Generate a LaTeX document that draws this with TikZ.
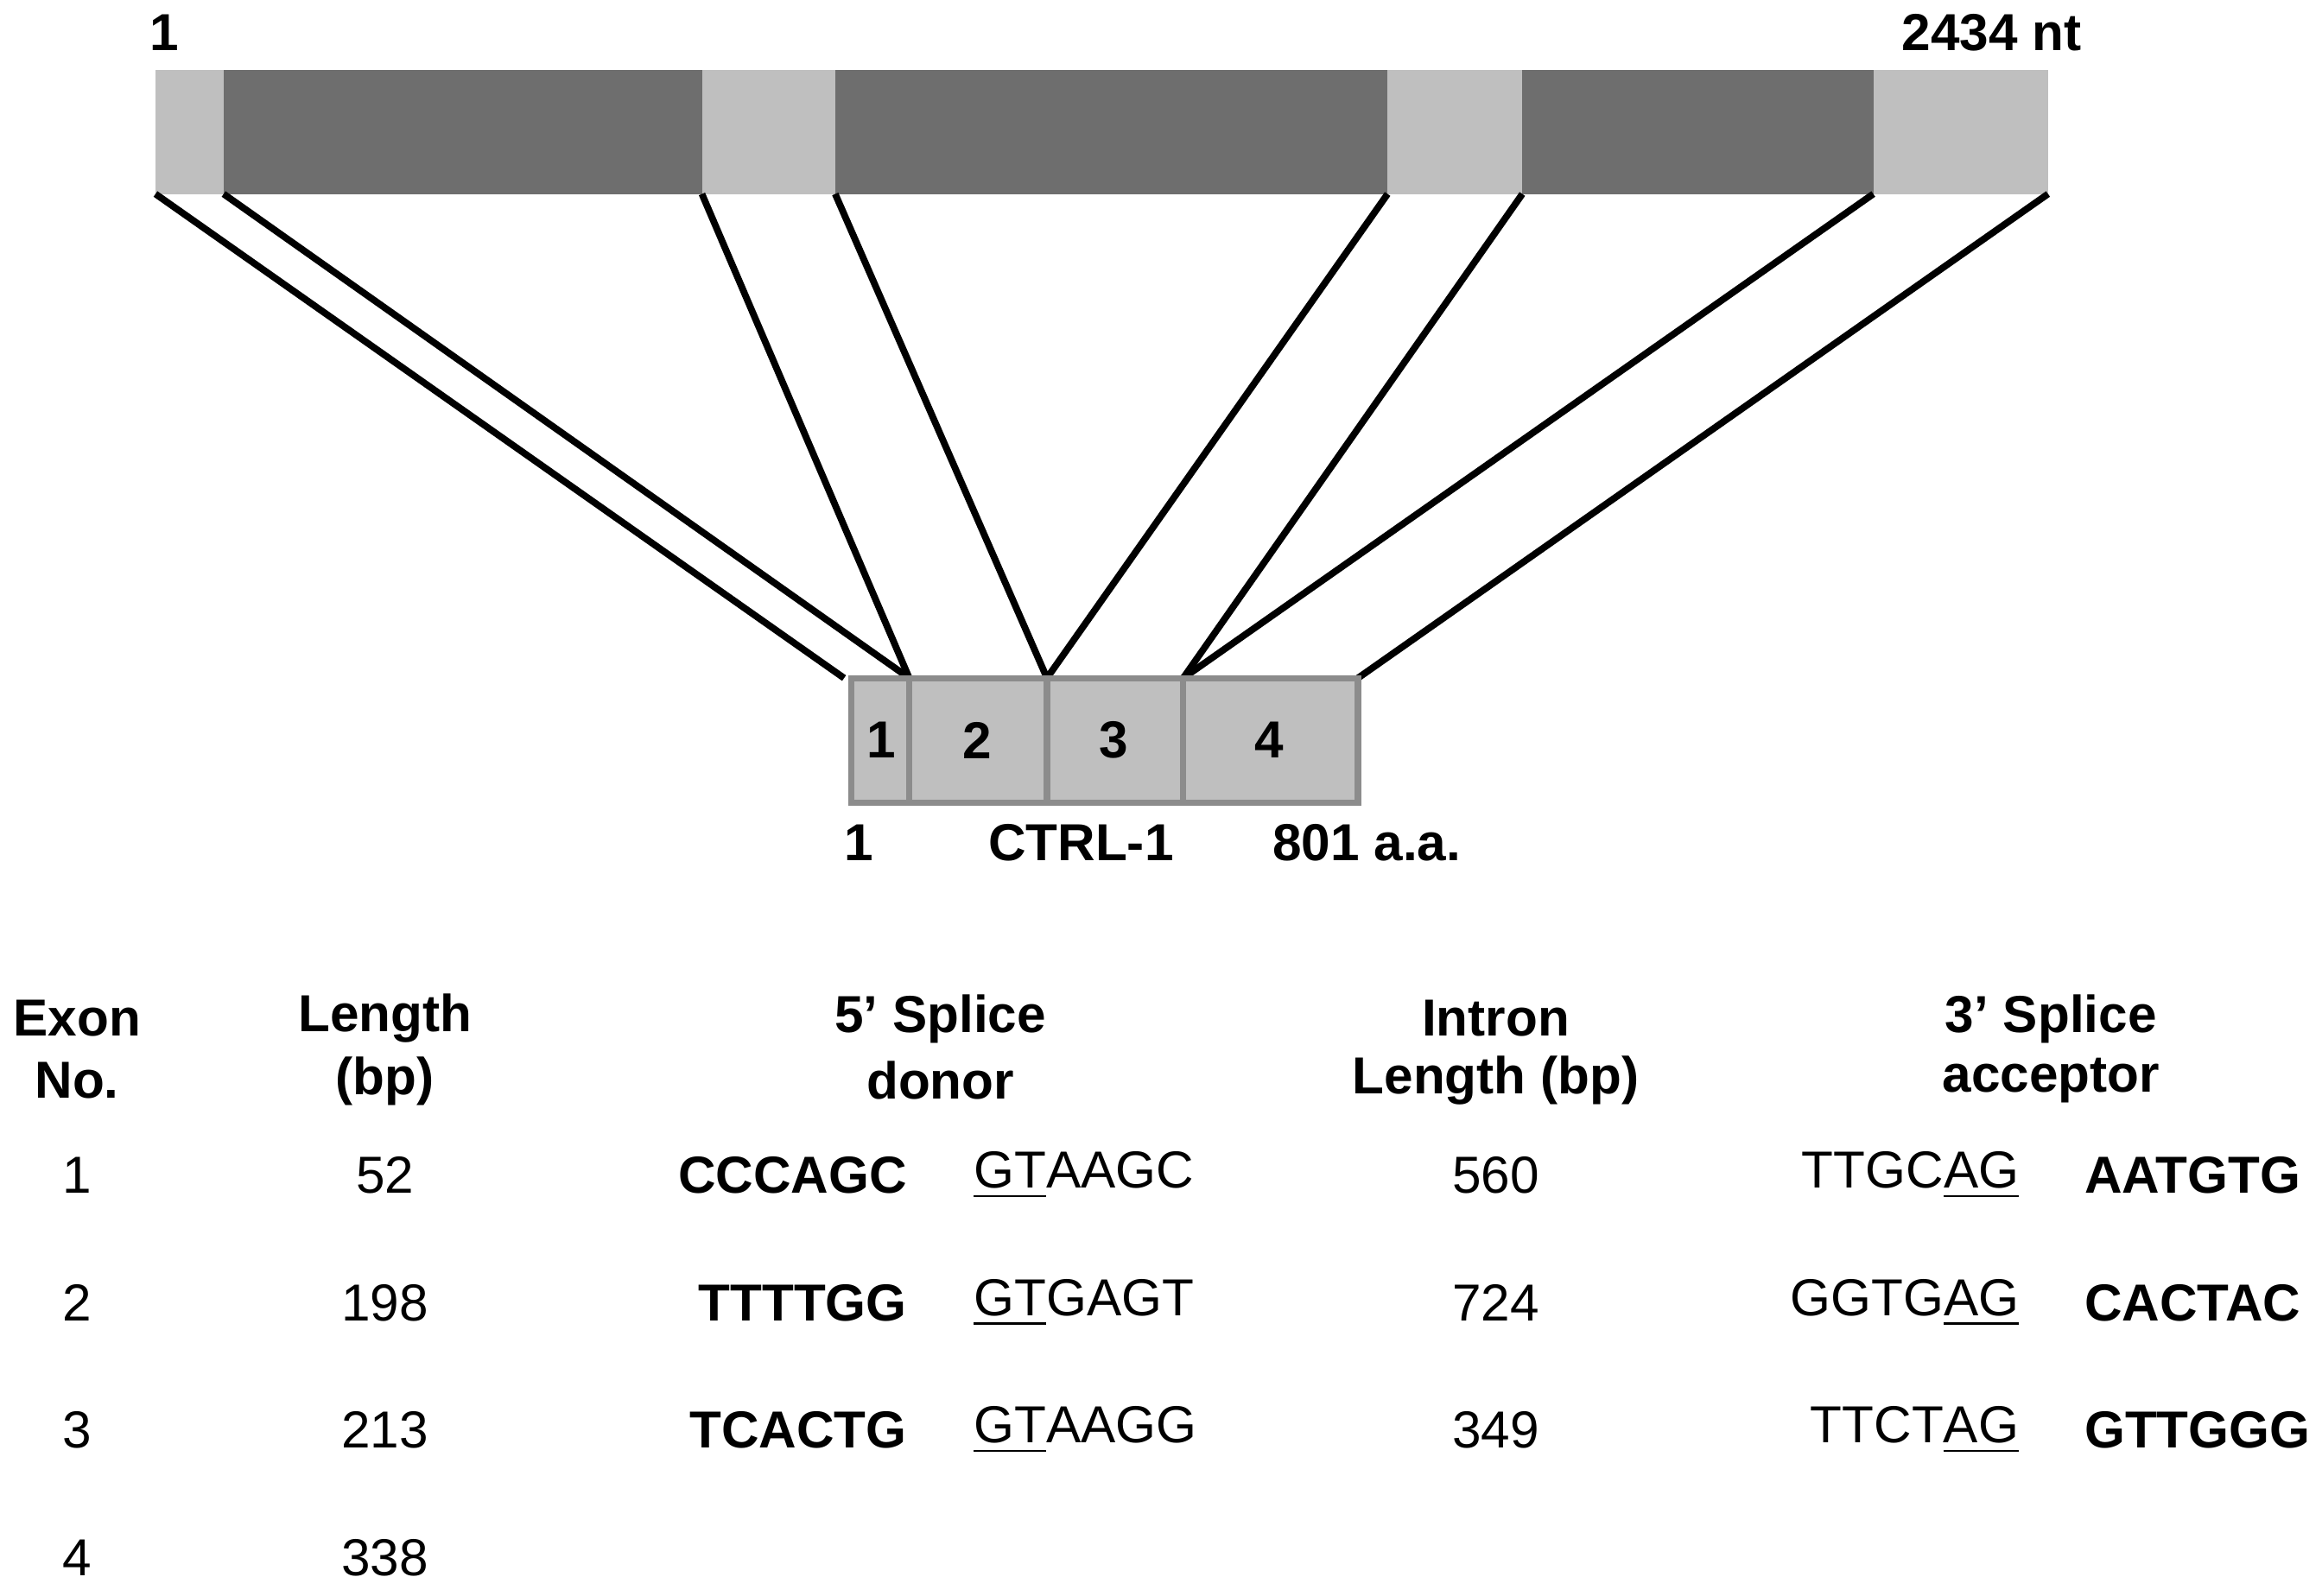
\documentclass[tikz,border=0pt]{standalone}
\usepackage{fontspec}
\setmainfont{Liberation Sans}
\begin{document}
\begin{tikzpicture}[x=0.01cm,y=-0.01cm,
  lt/.style={fill=black!25,draw=none},
  dk/.style={fill=black!57,draw=none},
  ex/.style={fill=black!25,draw=black!45,line width=1.2pt},
  ln/.style={line width=1.3pt,black},
  t/.style={font=\fontsize{10}{12}\selectfont,inner sep=0pt},
  b/.style={t,font=\fontsize{10}{12}\selectfont\bfseries}]
\useasboundingbox (0,0) rectangle (1568,1078);
% top bar
\path[lt] (105,47) rectangle (151,131);
\path[dk] (151,47) rectangle (474,131);
\path[lt] (474,47) rectangle (564,131);
\path[dk] (564,47) rectangle (937,131);
\path[lt] (937,47) rectangle (1028,131);
\path[dk] (1028,47) rectangle (1265,131);
\path[lt] (1265,47) rectangle (1383,131);
\node[b] (n1) at (111,22) {1};
\node[b] (n2) at (1345,22) {2434 nt};
% coordinates
\coordinate (a1) at (105,131); \coordinate (a2) at (151,131);
\coordinate (a3) at (474,131); \coordinate (a4) at (564,131);
\coordinate (a5) at (937,131); \coordinate (a6) at (1028,131);
\coordinate (a7) at (1265,131); \coordinate (a8) at (1383,131);
\coordinate (b0) at (570,458); \coordinate (b1) at (614,458);
\coordinate (b2) at (707,458); \coordinate (b3) at (799,458);
\coordinate (b4) at (917,458);
\draw[ln] (a1)--(b0); \draw[ln] (a2)--(b1); \draw[ln] (a3)--(b1);
\draw[ln] (a4)--(b2); \draw[ln] (a5)--(b2); \draw[ln] (a6)--(b3);
\draw[ln] (a7)--(b3); \draw[ln] (a8)--(b4);
% exons
\draw[ex] (575,458) rectangle (614,542);
\draw[ex] (614,458) rectangle (707,542);
\draw[ex] (707,458) rectangle (799,542);
\draw[ex] (799,458) rectangle (917,542);
\node[b] (e1) at (595,500) {1};
\node[b] (e2) at (660,500) {2};
\node[b] (e3) at (752,500) {3};
\node[b] (e4) at (857,500) {4};
\node[b] (p1) at (580,569) {1};
\node[b] (p2) at (730,569) {CTRL-1};
\node[b] (p3) at (923,569) {801 a.a.};
% headers
\node[b] (h1a) at (52,688) {Exon}; \node[b] (h1b) at (52,730) {No.};
\node[b] (h2a) at (260,688) {Length}; \node[b] (h2b) at (260,730) {(bp)};
\node[b] (h3a) at (635,688) {5’ Splice}; \node[b] (h3b) at (635,730) {donor};
\node[b] (h4a) at (1010,688) {Intron}; \node[b] (h4b) at (1010,730) {Length (bp)};
\node[b] (h5a) at (1385,688) {3’ Splice}; \node[b] (h5b) at (1385,730) {acceptor};
% rows
\foreach \y/\n/\l/\d/\ds/\i/\as/\ac [count=\k] in
 {794/1/52/CCCAGC/AAGC/560/TTGC/AATGTG,
  880/2/198/TTTTGG/GAGT/724/GGTG/CACTAC,
  966/3/213/TCACTG/AAGG/349/TTCT/GTTGGG}{
 \node[t] (r\k a) at (52,\y) {\n};
 \node[t] (r\k b) at (260,\y) {\l};
 \node[b,anchor=east] (r\k c) at (613,\y) {\d};
 \node[t,anchor=west] (r\k d) at (657,\y) {\underline{GT}\ds};
 \node[t] (r\k e) at (1010,\y) {\i};
 \node[t,anchor=east] (r\k f) at (1364,\y) {\as\underline{AG}};
 \node[b,anchor=west] (r\k g) at (1407,\y) {\ac};
}
\node[t] (r4a) at (52,1052) {4};
\node[t] (r4b) at (260,1052) {338};
\end{tikzpicture}
\end{document}
